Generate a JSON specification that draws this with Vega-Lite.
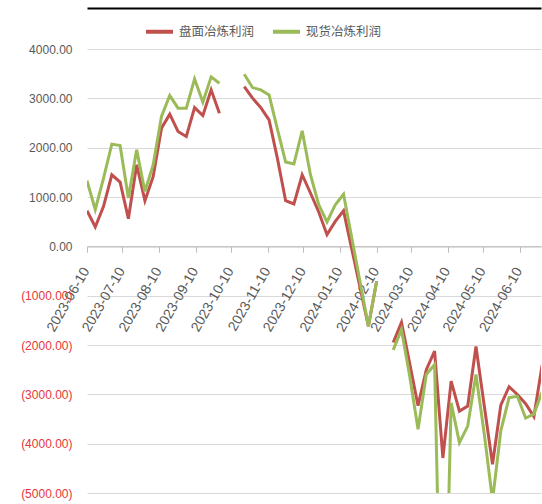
{
  "$schema": "https://vega.github.io/schema/vega-lite/v6.json",
  "width": 454,
  "height": 444,
  "autosize": "none",
  "padding": {"left": 87, "top": 49, "right": 1, "bottom": 11},
  "background": "white",
  "config": {"view": {"stroke": null}},
  "data": {"values": [
    {"date": "2023-06-10", "series": "盘面冶炼利润", "value": 723},
    {"date": "2023-06-17", "series": "盘面冶炼利润", "value": 393},
    {"date": "2023-06-24", "series": "盘面冶炼利润", "value": 810},
    {"date": "2023-07-01", "series": "盘面冶炼利润", "value": 1451},
    {"date": "2023-07-08", "series": "盘面冶炼利润", "value": 1303},
    {"date": "2023-07-15", "series": "盘面冶炼利润", "value": 561},
    {"date": "2023-07-22", "series": "盘面冶炼利润", "value": 1654},
    {"date": "2023-07-29", "series": "盘面冶炼利润", "value": 925},
    {"date": "2023-08-05", "series": "盘面冶炼利润", "value": 1417},
    {"date": "2023-08-12", "series": "盘面冶炼利润", "value": 2396},
    {"date": "2023-08-19", "series": "盘面冶炼利润", "value": 2680},
    {"date": "2023-08-26", "series": "盘面冶炼利润", "value": 2328},
    {"date": "2023-09-02", "series": "盘面冶炼利润", "value": 2226},
    {"date": "2023-09-09", "series": "盘面冶炼利润", "value": 2813},
    {"date": "2023-09-16", "series": "盘面冶炼利润", "value": 2651},
    {"date": "2023-09-23", "series": "盘面冶炼利润", "value": 3172},
    {"date": "2023-09-30", "series": "盘面冶炼利润", "value": 2700},
    {"date": "2023-10-07", "series": "盘面冶炼利润", "value": null},
    {"date": "2023-10-14", "series": "盘面冶炼利润", "value": null},
    {"date": "2023-10-21", "series": "盘面冶炼利润", "value": 3238},
    {"date": "2023-10-28", "series": "盘面冶炼利润", "value": 3003},
    {"date": "2023-11-04", "series": "盘面冶炼利润", "value": 2813},
    {"date": "2023-11-11", "series": "盘面冶炼利润", "value": 2564},
    {"date": "2023-11-18", "series": "盘面冶炼利润", "value": 1789},
    {"date": "2023-11-25", "series": "盘面冶炼利润", "value": 925},
    {"date": "2023-12-02", "series": "盘面冶炼利润", "value": 858},
    {"date": "2023-12-09", "series": "盘面冶炼利润", "value": 1451},
    {"date": "2023-12-16", "series": "盘面冶炼利润", "value": 1081},
    {"date": "2023-12-23", "series": "盘面冶炼利润", "value": 696},
    {"date": "2023-12-30", "series": "盘面冶炼利润", "value": 237},
    {"date": "2024-01-06", "series": "盘面冶炼利润", "value": 506},
    {"date": "2024-01-13", "series": "盘面冶炼利润", "value": 720},
    {"date": "2024-02-03", "series": "盘面冶炼利润", "value": -1619},
    {"date": "2024-02-10", "series": "盘面冶炼利润", "value": -708},
    {"date": "2024-02-17", "series": "盘面冶炼利润", "value": null},
    {"date": "2024-02-24", "series": "盘面冶炼利润", "value": -1950},
    {"date": "2024-03-02", "series": "盘面冶炼利润", "value": -1540},
    {"date": "2024-03-09", "series": "盘面冶炼利润", "value": -2380},
    {"date": "2024-03-16", "series": "盘面冶炼利润", "value": -3230},
    {"date": "2024-03-23", "series": "盘面冶炼利润", "value": -2500},
    {"date": "2024-03-30", "series": "盘面冶炼利润", "value": -2125},
    {"date": "2024-04-06", "series": "盘面冶炼利润", "value": -4290},
    {"date": "2024-04-13", "series": "盘面冶炼利润", "value": -2732},
    {"date": "2024-04-20", "series": "盘面冶炼利润", "value": -3340},
    {"date": "2024-04-27", "series": "盘面冶炼利润", "value": -3238},
    {"date": "2024-05-04", "series": "盘面冶炼利润", "value": -2030},
    {"date": "2024-05-11", "series": "盘面冶炼利润", "value": -3230},
    {"date": "2024-05-18", "series": "盘面冶炼利润", "value": -4418},
    {"date": "2024-05-25", "series": "盘面冶炼利润", "value": -3220},
    {"date": "2024-06-01", "series": "盘面冶炼利润", "value": -2846},
    {"date": "2024-06-08", "series": "盘面冶炼利润", "value": -3002},
    {"date": "2024-06-15", "series": "盘面冶炼利润", "value": -3190},
    {"date": "2024-06-22", "series": "盘面冶炼利润", "value": -3450},
    {"date": "2024-06-29", "series": "盘面冶炼利润", "value": -2400},
    {"date": "2023-06-10", "series": "现货冶炼利润", "value": 1330},
    {"date": "2023-06-17", "series": "现货冶炼利润", "value": 743},
    {"date": "2023-06-24", "series": "现货冶炼利润", "value": 1384},
    {"date": "2023-07-01", "series": "现货冶炼利润", "value": 2072},
    {"date": "2023-07-08", "series": "现货冶炼利润", "value": 2045},
    {"date": "2023-07-15", "series": "现货冶炼利润", "value": 980},
    {"date": "2023-07-22", "series": "现货冶炼利润", "value": 1957},
    {"date": "2023-07-29", "series": "现货冶炼利润", "value": 1113},
    {"date": "2023-08-05", "series": "现货冶炼利润", "value": 1654},
    {"date": "2023-08-12", "series": "现货冶炼利润", "value": 2632},
    {"date": "2023-08-19", "series": "现货冶炼利润", "value": 3056},
    {"date": "2023-08-26", "series": "现货冶炼利润", "value": 2801},
    {"date": "2023-09-02", "series": "现货冶炼利润", "value": 2801},
    {"date": "2023-09-09", "series": "现货冶炼利润", "value": 3394},
    {"date": "2023-09-16", "series": "现货冶炼利润", "value": 2923},
    {"date": "2023-09-23", "series": "现货冶炼利润", "value": 3435},
    {"date": "2023-09-30", "series": "现货冶炼利润", "value": 3307},
    {"date": "2023-10-07", "series": "现货冶炼利润", "value": null},
    {"date": "2023-10-14", "series": "现货冶炼利润", "value": null},
    {"date": "2023-10-21", "series": "现货冶炼利润", "value": 3489},
    {"date": "2023-10-28", "series": "现货冶炼利润", "value": 3218},
    {"date": "2023-11-04", "series": "现货冶炼利润", "value": 3172},
    {"date": "2023-11-11", "series": "现货冶炼利润", "value": 3070},
    {"date": "2023-11-18", "series": "现货冶炼利润", "value": 2380},
    {"date": "2023-11-25", "series": "现货冶炼利润", "value": 1708},
    {"date": "2023-12-02", "series": "现货冶炼利润", "value": 1668},
    {"date": "2023-12-09", "series": "现货冶炼利润", "value": 2342},
    {"date": "2023-12-16", "series": "现货冶炼利润", "value": 1451},
    {"date": "2023-12-23", "series": "现货冶炼利润", "value": 844},
    {"date": "2023-12-30", "series": "现货冶炼利润", "value": 494},
    {"date": "2024-01-06", "series": "现货冶炼利润", "value": 844},
    {"date": "2024-01-13", "series": "现货冶炼利润", "value": 1055},
    {"date": "2024-02-03", "series": "现货冶炼利润", "value": -1619},
    {"date": "2024-02-10", "series": "现货冶炼利润", "value": -708},
    {"date": "2024-02-17", "series": "现货冶炼利润", "value": null},
    {"date": "2024-02-24", "series": "现货冶炼利润", "value": -2100},
    {"date": "2024-03-02", "series": "现货冶炼利润", "value": -1690},
    {"date": "2024-03-09", "series": "现货冶炼利润", "value": -2640},
    {"date": "2024-03-16", "series": "现货冶炼利润", "value": -3710},
    {"date": "2024-03-23", "series": "现货冶炼利润", "value": -2597},
    {"date": "2024-03-30", "series": "现货冶炼利润", "value": -2394},
    {"date": "2024-04-06", "series": "现货冶炼利润", "value": -10000},
    {"date": "2024-04-13", "series": "现货冶炼利润", "value": -3170},
    {"date": "2024-04-20", "series": "现货冶炼利润", "value": -3979},
    {"date": "2024-04-27", "series": "现货冶炼利润", "value": -3643},
    {"date": "2024-05-04", "series": "现货冶炼利润", "value": -2597},
    {"date": "2024-05-11", "series": "现货冶炼利润", "value": -3800},
    {"date": "2024-05-18", "series": "现货冶炼利润", "value": -5150},
    {"date": "2024-05-25", "series": "现货冶炼利润", "value": -3740},
    {"date": "2024-06-01", "series": "现货冶炼利润", "value": -3068},
    {"date": "2024-06-08", "series": "现货冶炼利润", "value": -3040},
    {"date": "2024-06-15", "series": "现货冶炼利润", "value": -3480},
    {"date": "2024-06-22", "series": "现货冶炼利润", "value": -3400},
    {"date": "2024-06-29", "series": "现货冶炼利润", "value": -2950}
  ]},
  "encoding": {
    "y": {
      "field": "value", "type": "quantitative",
      "scale": {"domain": [-5000, 4000], "nice": false, "zero": false},
      "axis": {
        "title": null,
        "values": [-5000, -4000, -3000, -2000, -1000, 0, 1000, 2000, 3000, 4000],
        "labelExpr": "datum.value < 0 ? '(' + format(-datum.value, '.2f') + ')' : format(datum.value, '.2f')",
        "labelColor": {"condition": {"test": "datum.value < 0", "value": "#E8363A"}, "value": "#595959"},
        "labelFont": "Liberation Sans Narrow, Liberation Sans, sans-serif",
        "labelFontSize": 12,
        "labelPadding": 15,
        "domain": false,
        "ticks": false,
        "grid": true,
        "gridColor": "#D9D9D9",
        "gridWidth": 1.2
      }
    },
    "color": {
      "field": "series", "type": "nominal",
      "scale": {"domain": ["盘面冶炼利润", "现货冶炼利润"], "range": ["#C0504D", "#9BBB59"]},
      "legend": {
        "title": null,
        "orient": "none",
        "legendX": 57,
        "legendY": -33,
        "direction": "horizontal",
        "symbolType": "stroke",
        "symbolSize": 729,
        "symbolStrokeWidth": 4,
        "labelFont": "Noto Sans CJK SC",
        "labelFontSize": 12.5,
        "labelColor": "#595959",
        "labelOffset": 4,
        "columnPadding": 10
      }
    }
  },
  "layer": [
    {
      "transform": [{"filter": "datum.series == '盘面冶炼利润'"}],
      "mark": {"type": "line", "strokeWidth": 3, "clip": true, "invalid": "break-paths-show-domains"},
      "encoding": {
        "x": {
          "field": "date", "type": "temporal",
          "scale": {"type": "utc", "domain": [{"year": 2023, "month": 6, "date": 10, "utc": true}, {"year": 2024, "month": 6, "date": 28, "utc": true}]},
          "axis": {
            "title": null,
            "orient": "bottom",
            "offset": {"expr": "scale('y', 0) - height"},
            "values": [
              {"year": 2023, "month": 6, "date": 10, "utc": true},
              {"year": 2023, "month": 7, "date": 10, "utc": true},
              {"year": 2023, "month": 8, "date": 10, "utc": true},
              {"year": 2023, "month": 9, "date": 10, "utc": true},
              {"year": 2023, "month": 10, "date": 10, "utc": true},
              {"year": 2023, "month": 11, "date": 10, "utc": true},
              {"year": 2023, "month": 12, "date": 10, "utc": true},
              {"year": 2024, "month": 1, "date": 10, "utc": true},
              {"year": 2024, "month": 2, "date": 10, "utc": true},
              {"year": 2024, "month": 3, "date": 10, "utc": true},
              {"year": 2024, "month": 4, "date": 10, "utc": true},
              {"year": 2024, "month": 5, "date": 10, "utc": true},
              {"year": 2024, "month": 6, "date": 10, "utc": true}
            ],
            "labelExpr": "utcFormat(datum.value, '%Y-%m-%d')",
            "labelAngle": -60,
            "labelAlign": "right",
            "labelBaseline": "middle",
            "labelFont": "Liberation Sans, sans-serif",
            "labelFontSize": 14,
            "labelColor": "#595959",
            "labelPadding": 16,
            "labelOffset": -1,
            "labelOverlap": false,
            "labelFlush": false,
            "labelBound": false,
            "grid": false,
            "domainColor": "#BFBFBF",
            "domainWidth": 1.2,
            "tickColor": "#BFBFBF",
            "tickSize": 6
          }
        }
      }
    },
    {
      "transform": [{"filter": "datum.series == '现货冶炼利润'"}],
      "mark": {"type": "line", "strokeWidth": 3, "clip": true, "invalid": "break-paths-show-domains"},
      "encoding": {
        "x": {
          "field": "date", "type": "temporal",
          "axis": {
            "title": null,
            "orient": "top",
            "offset": 41,
            "labels": false,
            "ticks": false,
            "grid": false,
            "domainColor": "#000000",
            "domainWidth": 2
          }
        }
      }
    }
  ]
}
